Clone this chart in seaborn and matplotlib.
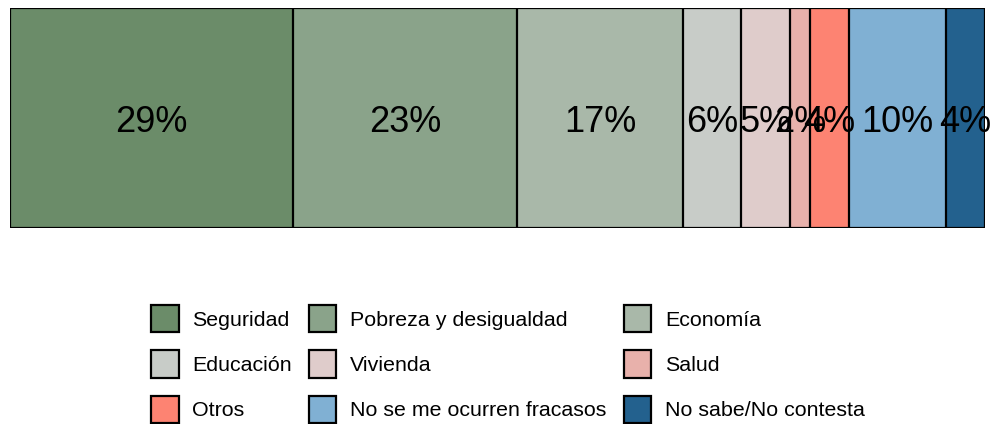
import matplotlib
matplotlib.use("Agg")
import matplotlib.pyplot as plt
import seaborn as sns
import pandas as pd
import numpy as np
from matplotlib.patches import Patch

categories = ["Seguridad", "Pobreza y desigualdad", "Economía", "Educación", "Vivienda",
              "Salud", "Otros", "No se me ocurren fracasos", "No sabe/No contesta"]
values = [29, 23, 17, 6, 5, 2, 4, 10, 4]
colors = ["#6b8c69", "#8aa38a", "#a9b8a9", "#c8ccc8", "#dfcccb",
          "#e8b1ab", "#fd8372", "#80b0d3", "#23618e"]

sns.set_theme(style="white")
plt.rcParams['font.family'] = ['Liberation Sans', 'DejaVu Sans']

df = pd.DataFrame({"cat": categories, "value": values, "color": colors})
df["end"] = df["value"].cumsum()
df["start"] = df["end"] - df["value"]
df["row"] = "all"

fig = plt.figure(figsize=(9.92, 4.24), dpi=100)
ax = fig.add_axes([10/992, 1-228/424, 975/992, 220/424])

# overlay cumulative bars from largest to smallest to form a stacked bar
for i in range(len(df) - 1, -1, -1):
    sub = df.iloc[[i]]
    sns.barplot(data=sub, x="end", y="row", orient="h", color=df["color"].iloc[i],
                saturation=1, width=1.0, edgecolor="black", linewidth=1.6, ax=ax)

for _, r in df.iterrows():
    ax.text((r["start"] + r["end"]) / 2, 0.02, f"{r['value']}%", ha="center", va="center",
            fontsize=26, color="black")

ax.set_xlim(0, df["end"].iloc[-1])
ax.set_ylim(0.5, -0.5)
ax.axis("off")

handles = [Patch(facecolor=c, edgecolor="black", linewidth=1.6) for c in colors]
# reorder so the legend reads row by row with 3 columns
order = [0, 3, 6, 1, 4, 7, 2, 5, 8]
fig.legend([handles[i] for i in order], [categories[i] for i in order],
           loc="center", bbox_to_anchor=(508/992, 1-364/424), ncol=3, frameon=False,
           fontsize=15.4, handlelength=1.27, handleheight=1.6, handletextpad=0.65,
           columnspacing=0.8, labelspacing=0.84, borderpad=0, labelcolor="black")

fig.savefig("out.png", dpi=100)
